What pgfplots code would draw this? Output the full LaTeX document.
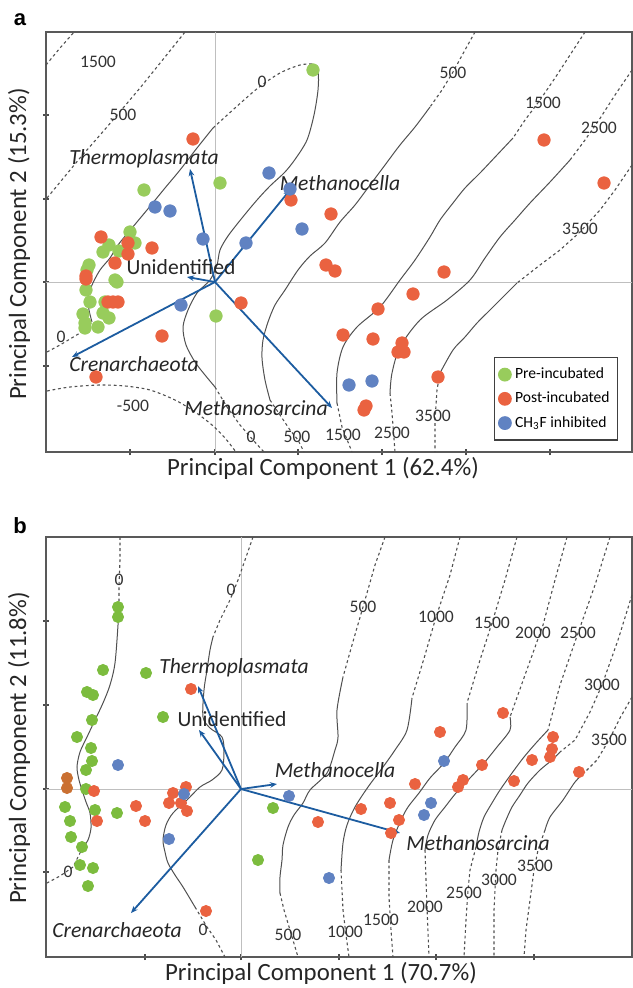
\documentclass[border=0pt]{standalone}
\usepackage{pgfplots}
\pgfplotsset{compat=1.18}
\usetikzlibrary{arrows.meta}
\usepackage{fontspec}
\setmainfont{Carlito}
\newfontfamily\arialf{Liberation Sans}
\definecolor{pgreen}{RGB}{152,204,92}
\definecolor{pgreenb}{RGB}{124,188,62}
\definecolor{pred}{RGB}{234,98,64}
\definecolor{pblue}{RGB}{96,130,194}
\definecolor{pbrown}{RGB}{202,112,50}
\definecolor{arrowblue}{RGB}{28,92,160}
\definecolor{contgray}{RGB}{80,80,80}
\pgfplotsset{
  contsolid/.style={contgray, line width=0.5pt, forget plot},
  contdash/.style={contgray, line width=0.55pt, dash pattern=on 1.4pt off 1.4pt, forget plot},
  loading/.style={arrowblue, line width=0.9pt, -{Stealth[length=3.5pt,width=2.8pt]}, forget plot},
  gridl/.style={black!25, line width=0.5pt, forget plot},
}
\tikzset{
  clab/.style={font=\fontsize{8.8}{10}\selectfont, text=black!80, inner sep=0pt},
  taxon/.style={font=\itshape\fontsize{10.8}{12}\selectfont, text=black!85, inner sep=0pt},
  taxonup/.style={font=\fontsize{10.8}{12}\selectfont, text=black!85, inner sep=0pt},
  axlab/.style={font=\fontsize{12.4}{14}\selectfont, text=black!85, inner sep=0pt},
}
\pgfplotsset{common/.style={
  scale only axis, width=293pt, height=210pt,
  xmin=46, xmax=632, y dir=reverse, clip=false,
  axis line style={black!65, line width=0.7pt},
  xtick pos=bottom, ytick pos=left,
  xticklabels={}, yticklabels={},
  tick style={black!70, line width=0.6pt},
  major tick length=3pt, tick align=center,
}}
\begin{document}
\begin{tikzpicture}
\useasboundingbox (0,0) rectangle (316pt,-494pt);
% ---------------- panel a ----------------
\begin{axis}[common, at={(23pt,-226pt)}, anchor=south west,
  ymin=32, ymax=452,
  xtick={130,215,298,382,466,550}, ytick={115,199,282,366},
  legend style={at={(axis cs:494,357)}, anchor=north west, draw=black!75, line width=0.7pt,
    font=\fontsize{7.8}{9}\selectfont, row sep=1.2pt, inner xsep=2pt, inner ysep=3pt,
    legend cell align=left, /tikz/every even column/.append style={column sep=1pt}},
]
\addplot[gridl] coordinates {(215,32) (215,452)};
\addplot[gridl] coordinates {(46,282) (632,282)};
% contours: 0
\addplot[contdash] coordinates {(47,352) (60,345) (75,336) (85,330) (92,322)};
\addplot[contsolid, smooth] coordinates {(92,322) (89,310) (88,298) (92,285) (100,270) (110,258) (118,245) (132,228) (147,210) (165,188) (180,170) (197,148) (213,128)};
\addplot[contdash, smooth] coordinates {(213,128) (235,108) (258,88) (280,73) (300,65) (312,64)};
\addplot[contsolid, smooth] coordinates {(312,64) (318,72) (318,90) (314,115) (307,140) (296,158) (285,172) (270,186) (257,200) (242,218) (228,236) (220,250) (217,265) (210,280) (197,293) (188,310) (183,327) (186,345) (195,362) (205,375) (215,387)};
\addplot[contdash] coordinates {(215,387) (227,407) (240,425) (253,440) (264,452)};
% -500
\addplot[contdash, smooth] coordinates {(47,391) (70,387) (100,385) (125,386) (150,390) (175,400) (195,412) (212,425) (225,438) (236,452)};
% 500
\addplot[contdash] coordinates {(475,32) (465,50) (453,72) (442,90) (430,107)};
\addplot[contsolid, smooth] coordinates {(430,107) (415,127) (400,145) (385,165) (370,185) (355,205) (340,222) (325,243) (310,256) (298,270) (285,290) (275,305) (268,322) (263,340) (262,358) (265,380) (270,400)};
\addplot[contdash] coordinates {(270,400) (280,415) (290,430) (298,440) (304,452)};
% 1500
\addplot[contdash] coordinates {(585,32) (570,55) (555,78) (540,100) (525,120) (513,138)};
\addplot[contsolid, smooth] coordinates {(513,138) (497,155) (480,173) (465,188) (453,203) (440,220) (430,237) (415,260) (400,280) (380,307) (357,327) (343,347) (337,373) (337,403)};
\addplot[contdash] coordinates {(337,403) (342,427) (352,452)};
% 2500
\addplot[contdash] coordinates {(632,70) (615,95) (599,120) (585,140) (570,160)};
\addplot[contsolid, smooth] coordinates {(570,160) (550,182) (530,203) (515,220) (500,237) (485,258) (470,280) (447,300) (420,320) (400,347) (392,373) (390,393)};
\addplot[contdash] coordinates {(390,393) (392,413) (395,452)};
% 3500
\addplot[contdash] coordinates {(632,165) (615,190) (600,210) (580,232) (560,250) (540,265) (517,283)};
\addplot[contsolid, smooth] coordinates {(517,283) (503,297) (490,310) (477,323) (465,337) (453,350) (440,373)};
\addplot[contdash] coordinates {(440,373) (437,390) (435,420) (435,452)};
% upper-left
\addplot[contdash] coordinates {(46,65) (60,48) (75,31)};
\addplot[contdash] coordinates {(47,198) (80,158) (107,127) (140,88) (165,57) (185,32)};
% loadings
\addplot[loading] coordinates {(215,282) (190,169)};
\addplot[loading] coordinates {(215,282) (290,190)};
\addplot[loading] coordinates {(215,282) (187,277)};
\addplot[loading] coordinates {(215,282) (72,357)};
\addplot[loading] coordinates {(215,282) (332,408)};
% points
\addplot[only marks, mark=*, mark size=3.1pt, mark options={fill=pgreen, draw=pgreen}] coordinates {
(313,70) (220,183) (144,190) (130,232) (135,243) (109,245) (103,252) (119,251) (89,265) (87,270)
(115,280) (117,282) (86,290) (90,302) (105,302) (83,314) (103,313) (109,318) (85,323) (85,328)
(98,327) (216,316)};
\addplot[only marks, mark=*, mark size=3.1pt, mark options={fill=pred, draw=pred}] coordinates {
(193,139) (291,200) (331,214) (101,237) (128,243) (152,248) (128,254) (115,263) (86,276) (86,279)
(108,302) (113,302) (118,302) (162,336) (96,377) (241,303) (326,265) (335,271) (444,272) (413,294)
(378,309) (343,335) (373,339) (402,343) (398,352) (404,352) (438,377) (366,406) (364,410) (544,140)
(604,183)};
\addplot[only marks, mark=*, mark size=3.1pt, mark options={fill=pblue, draw=pblue}] coordinates {
(269,173) (290,189) (155,207) (170,211) (302,229) (203,239) (246,243) (181,305) (349,385) (372,381)};
\legend{Pre-incubated, Post-incubated, CH\textsubscript{3}F inhibited}
% contour labels
\node[clab] at (axis cs:98,62) {1500};
\node[clab] at (axis cs:123,115) {500};
\node[clab] at (axis cs:262,82) {0};
\node[clab] at (axis cs:453,73) {500};
\node[clab] at (axis cs:543,103) {1500};
\node[clab] at (axis cs:599,128) {2500};
\node[clab] at (axis cs:580,229) {3500};
\node[clab] at (axis cs:61,337) {0};
\node[clab] at (axis cs:133,406) {-500};
\node[clab] at (axis cs:251,437) {0};
\node[clab] at (axis cs:297,437) {500};
\node[clab] at (axis cs:343,435) {1500};
\node[clab] at (axis cs:392,433) {2500};
\node[clab] at (axis cs:433,416) {3500};
% taxa
\node[taxon] at (axis cs:144,159) {Thermoplasmata};
\node[taxon] at (axis cs:340,183) {Methanocella};
\node[taxonup] at (axis cs:181,267) {Unidentified};
\node[taxon] at (axis cs:134,364) {Crenarchaeota};
\node[taxon] at (axis cs:256,408) {Methanosarcina};
% labels
\node[axlab] at (axis cs:323,468) {Principal Component 1 (62.4\%)};
\node[axlab, rotate=90] at (axis cs:19,244) {Principal Component 2 (15.3\%)};
\node[font=\arialf\bfseries\fontsize{11}{13}\selectfont, inner sep=0pt] at (axis cs:20,20) {a};
\end{axis}
% ---------------- panel b ----------------
\begin{axis}[common, at={(23pt,-478.5pt)}, anchor=south west,
  ymin=537, ymax=957,
  xtick={145,241,339,436,534}, ytick={621,705,789,872},
]
\addplot[gridl] coordinates {(241,537) (241,957)};
\addplot[gridl] coordinates {(46,789) (632,789)};
% 0 left
\addplot[contdash] coordinates {(120,537) (120,560) (119,585) (119,602)};
\addplot[contsolid, smooth] coordinates {(119,602) (118,625) (115,663) (110,685) (103,703) (95,720) (87,737) (80,752) (77,767) (79,780) (82,790) (86,802) (90,813) (91,828) (88,840) (83,847)};
\addplot[contdash] coordinates {(83,847) (78,857) (73,867) (60,876) (47,883)};
% 0 second
\addplot[contdash] coordinates {(253,537) (245,560) (238,580) (230,600) (220,620) (213,637)};
\addplot[contsolid, smooth] coordinates {(213,637) (210,650) (207,670) (204,690) (203,717) (210,728) (222,737) (224,752) (222,770) (212,780) (200,787) (187,800) (173,813) (166,825) (163,840) (165,852) (168,863) (175,875) (183,887) (195,907)};
\addplot[contdash] coordinates {(195,907) (207,927) (216,940) (225,957)};
% 500
\addplot[contdash] coordinates {(385,537) (375,565) (363,607) (352,645) (343,677)};
\addplot[contsolid, smooth] coordinates {(343,677) (337,710) (338,737) (335,750) (327,773) (310,790) (303,803) (294,815) (288,827) (283,845) (282,860) (280,877) (280,893)};
\addplot[contdash] coordinates {(280,893) (284,910) (290,930) (298,957)};
% 1000
\addplot[contdash] coordinates {(460,537) (450,575) (436,617) (425,655) (412,698)};
\addplot[contsolid, smooth] coordinates {(412,698) (407,730) (395,750) (383,767) (368,787) (355,807) (347,825) (343,843) (341,870)};
\addplot[contdash] coordinates {(341,870) (343,910) (346,935) (349,957)};
% 1500
\addplot[contdash] coordinates {(517,537) (505,580) (492,623) (480,660) (467,703)};
\addplot[contsolid, smooth] coordinates {(467,703) (466,730) (455,747) (444,763) (430,778) (419,793) (408,807) (401,820) (393,840) (389,860)};
\addplot[contdash] coordinates {(389,860) (389,897) (391,930) (393,957)};
% 2000
\addplot[contdash] coordinates {(567,537) (555,580) (543,625) (525,675) (510,717)};
\addplot[contsolid, smooth] coordinates {(510,717) (510,730) (497,747) (484,763) (470,778) (456,793) (445,807) (435,820) (428,835) (425,850)};
\addplot[contdash] coordinates {(425,850) (426,880) (427,907) (429,957)};
% 2500
\addplot[contdash] coordinates {(610,537) (595,585) (578,633) (560,685) (548,730)};
\addplot[contsolid, smooth] coordinates {(548,730) (536,743) (524,757) (512,773) (500,790) (492,803) (484,817) (479,832) (476,847)};
\addplot[contdash] coordinates {(476,847) (470,870) (468,890) (466,920) (464,957)};
% 3000
\addplot[contdash] coordinates {(632,595) (618,640) (602,685) (590,712) (575,740) (560,752)};
\addplot[contsolid, smooth] coordinates {(560,752) (552,760) (540,770) (528,783) (520,795) (512,807) (506,820) (502,830)};
\addplot[contdash] coordinates {(502,830) (498,850) (496,870) (494,910) (494,957)};
% 3500
\addplot[contdash] coordinates {(632,697) (620,718) (609,740) (597,760) (585,772)};
\addplot[contsolid, smooth] coordinates {(585,772) (575,782) (563,800) (550,817) (545,830)};
\addplot[contdash] coordinates {(545,830) (538,850) (534,870) (530,900) (526,930) (524,957)};
% loadings
\addplot[loading] coordinates {(241,789) (198,686)};
\addplot[loading] coordinates {(241,789) (199,730)};
\addplot[loading] coordinates {(241,789) (277,784)};
\addplot[loading] coordinates {(241,789) (400,833)};
\addplot[loading] coordinates {(241,789) (131,913)};
% points
\addplot[only marks, mark=*, mark size=2.8pt, mark options={fill=pgreenb, draw=pgreenb}, forget plot] coordinates {
(118,607) (118,617) (103,670) (146,673) (87,692) (93,695) (92,720) (163,717) (77,737) (91,748)
(92,761) (86,770) (86,789) (65,807) (95,810) (117,813) (70,821) (71,837) (82,847) (80,865)
(93,868) (88,886) (273,808) (258,860)};
\addplot[only marks, mark=*, mark size=2.8pt, mark options={fill=pred, draw=pred}, forget plot] coordinates {
(191,689) (94,791) (136,806) (145,821) (97,821) (173,793) (186,787) (169,803) (181,803) (187,811)
(206,911) (318,822) (440,732) (503,713) (553,737) (552,749) (550,757) (532,760) (482,765) (579,772)
(463,780) (458,787) (514,781) (415,784) (390,803) (361,809) (399,820) (391,833)};
\addplot[only marks, mark=*, mark size=2.8pt, mark options={fill=pbrown, draw=pbrown}, forget plot] coordinates {
(67,778) (67,788)};
\addplot[only marks, mark=*, mark size=2.8pt, mark options={fill=pblue, draw=pblue}, forget plot] coordinates {
(118,765) (184,794) (169,839) (289,796) (329,878) (444,761) (431,803) (424,815)};
% contour labels
\node[clab] at (axis cs:119,580) {0};
\node[clab] at (axis cs:231,590) {0};
\node[clab] at (axis cs:363,607) {500};
\node[clab] at (axis cs:436,617) {1000};
\node[clab] at (axis cs:492,623) {1500};
\node[clab] at (axis cs:533,633) {2000};
\node[clab] at (axis cs:578,633) {2500};
\node[clab] at (axis cs:602,685) {3000};
\node[clab] at (axis cs:609,740) {3500};
\node[clab] at (axis cs:68,872) {0};
\node[clab] at (axis cs:203,930) {0};
\node[clab] at (axis cs:288,935) {500};
\node[clab] at (axis cs:345,932) {1000};
\node[clab] at (axis cs:381,920) {1500};
\node[clab] at (axis cs:425,907) {2000};
\node[clab] at (axis cs:464,893) {2500};
\node[clab] at (axis cs:499,880) {3000};
\node[clab] at (axis cs:535,866) {3500};
% taxa
\node[taxon] at (axis cs:234,668) {Thermoplasmata};
\node[taxonup] at (axis cs:232,719) {Unidentified};
\node[taxon] at (axis cs:335,770) {Methanocella};
\node[taxon] at (axis cs:478,843) {Methanosarcina};
\node[taxon] at (axis cs:117,930) {Crenarchaeota};
% labels
\node[axlab] at (axis cs:321,973) {Principal Component 1 (70.7\%)};
\node[axlab, rotate=90] at (axis cs:19,748) {Principal Component 2 (11.8\%)};
\node[font=\arialf\bfseries\fontsize{11}{13}\selectfont, inner sep=0pt] at (axis cs:20,526) {b};
\end{axis}
\end{tikzpicture}
\end{document}
